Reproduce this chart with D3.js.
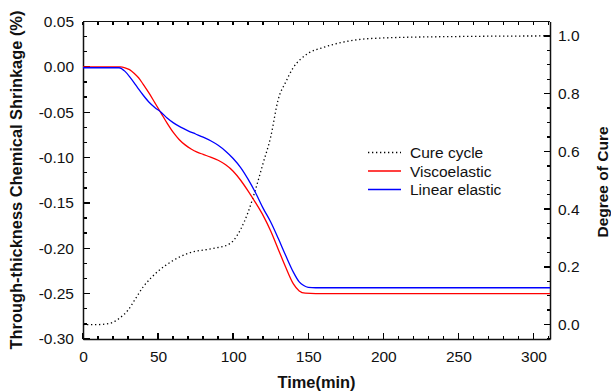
<!DOCTYPE html>
<html lang="en">
<head>
  <meta charset="UTF-8" />
  <title>Through-thickness Chemical Shrinkage</title>
  <script src="https://d3js.org/d3.v7.min.js"></script>
  <style>
    body {
      margin: 0;
      background: #fff;
    }

    svg {
      display: block;
      font-family: "Liberation Sans", Arial, sans-serif;
    }

    .axis path, .axis line {
      stroke: #111;
      stroke-width: 1.2;
    }

    .axis text {
      font-size: 15.5px;
      fill: #111;
    }

    .title {
      font-size: 16.4px;
      font-weight: bold;
      fill: #111;
    }

    .legend text {
      font-size: 15.5px;
      fill: #111;
    }
  </style>
</head>

<body>
  <svg width="611" height="392"></svg>

  <script>
    const viscoTime = [0, 25, 28, 31, 34, 37, 40, 44, 48, 52, 56, 60, 64, 68, 72, 76, 80, 85, 90, 95, 100, 105, 110, 115, 120, 125, 130, 135, 140, 144, 148, 155, 311];
    const viscoVals = [0, 0, -0.001, -0.003, -0.007, -0.012, -0.019, -0.029, -0.040, -0.051, -0.062, -0.072, -0.080, -0.086, -0.0905, -0.094, -0.0965, -0.0995, -0.103, -0.108, -0.115, -0.125, -0.137, -0.150, -0.164, -0.181, -0.201, -0.221, -0.239, -0.247, -0.2495, -0.250, -0.250];

    const linearTime = [0, 24, 28, 32, 36, 40, 44, 48, 52, 56, 60, 65, 70, 75, 80, 85, 90, 95, 100, 105, 110, 115, 120, 125, 130, 135, 140, 144, 147, 150, 155, 311];
    const linearVals = [-0.001, -0.001, -0.005, -0.013, -0.022, -0.031, -0.039, -0.045, -0.050, -0.0565, -0.0615, -0.0665, -0.0705, -0.074, -0.0775, -0.0815, -0.0865, -0.093, -0.101, -0.111, -0.124, -0.139, -0.156, -0.171, -0.189, -0.208, -0.226, -0.237, -0.241, -0.243, -0.2435, -0.2435];

    const cureTime = [0, 10, 15, 20, 25, 30, 35, 40, 45, 50, 55, 60, 65, 70, 75, 80, 85, 90, 95, 100, 105, 110, 115, 120, 125, 130, 135, 140, 145, 150, 160, 170, 180, 200, 250, 311];
    const cureVals = [0, 0, 0.002, 0.008, 0.025, 0.05, 0.09, 0.13, 0.16, 0.185, 0.205, 0.222, 0.236, 0.247, 0.254, 0.258, 0.262, 0.267, 0.273, 0.29, 0.33, 0.39, 0.47, 0.56, 0.65, 0.78, 0.84, 0.89, 0.92, 0.94, 0.96, 0.975, 0.985, 0.993, 0.998, 1.0];

    const xTicks = [0, 50, 100, 150, 200, 250, 300];
    const leftTicks = [0.05, 0.00, -0.05, -0.10, -0.15, -0.20, -0.25, -0.30];
    const rightTicks = [0.0, 0.2, 0.4, 0.6, 0.8, 1.0];

    const seriesNames = ["Cure cycle", "Viscoelastic", "Linear elastic"];
    const seriesColors = ["#000", "#ff0000", "#0000ff"];

    const svg = d3.select("svg");
    const margin = { left: 83, right: 61, top: 21.5, bottom: 53 };
    const width = 611, height = 392;
    const x0 = margin.left, x1 = width - margin.right;
    const y0 = height - margin.bottom, y1 = margin.top;

    const x = d3.scaleLinear().domain([0, 311]).range([x0, x1]);
    const yL = d3.scaleLinear().domain([-0.30, 0.05]).range([y0, y1]);
    const yR = d3.scaleLinear().domain([-0.05, 1.05]).range([y0, y1]);

    const fmt = d => d.toFixed(2).replace("-0.00", "0.00");

    const minorX = d3.range(0, 311, 10);
    const minorL = d3.range(0, 22).map(i => -0.30 + i * 0.05 / 3);
    const minorR = d3.range(0, 23).map(i => -0.05 + i * 0.05);

    // inward ticks drawn by hand
    const ticks = svg.append("g")
      .attr("stroke", "#000")
      .attr("stroke-width", 1.4)
      .attr("shape-rendering", "crispEdges");
    const addTicks = (vals, f) => ticks.append("g").selectAll("line").data(vals).join("line").each(f);
    addTicks(minorX, function (d) {
      d3.select(this).attr("x1", x(d)).attr("x2", x(d)).attr("y1", y0).attr("y2", y0 - 3.5);
    });
    addTicks(minorX, function (d) {
      d3.select(this).attr("x1", x(d)).attr("x2", x(d)).attr("y1", y1).attr("y2", y1 + 3.5);
    });
    addTicks(xTicks, function (d) {
      d3.select(this).attr("x1", x(d)).attr("x2", x(d)).attr("y1", y0).attr("y2", y0 - 6.5);
    });
    addTicks(minorL, function (d) {
      d3.select(this).attr("x1", x0).attr("x2", x0 + 3.5).attr("y1", yL(d)).attr("y2", yL(d));
    });
    addTicks(leftTicks, function (d) {
      d3.select(this).attr("x1", x0).attr("x2", x0 + 6.5).attr("y1", yL(d)).attr("y2", yL(d));
    });
    addTicks(minorR, function (d) {
      d3.select(this).attr("x1", x1).attr("x2", x1 - 3.5).attr("y1", yR(d)).attr("y2", yR(d));
    });
    addTicks(rightTicks, function (d) {
      d3.select(this).attr("x1", x1).attr("x2", x1 - 6.5).attr("y1", yR(d)).attr("y2", yR(d));
    });

    // axes (labels and lines)
    svg.append("g").attr("class", "axis")
      .attr("transform", `translate(0,${y0})`)
      .call(d3.axisBottom(x).tickValues(xTicks).tickSize(0).tickPadding(8))
      .call(g => g.selectAll("text").attr("dy", "0.95em"));
    svg.append("g").attr("class", "axis")
      .attr("transform", `translate(${x0},0)`)
      .call(d3.axisLeft(yL).tickValues(leftTicks).tickFormat(fmt).tickSize(0).tickPadding(9));
    svg.append("g").attr("class", "axis")
      .attr("transform", `translate(${x1},0)`)
      .call(d3.axisRight(yR).tickValues(rightTicks).tickFormat(d3.format(".1f")).tickSize(0).tickPadding(8));
    svg.append("line")
      .attr("x1", x0).attr("x2", x1).attr("y1", y1).attr("y2", y1)
      .attr("stroke", "#111")
      .attr("stroke-width", 1.2);

    svg.selectAll(".axis .domain").style("stroke-width", 1.5);

    // curves
    const lineL = d3.line().x(d => x(d[0])).y(d => yL(d[1])).curve(d3.curveMonotoneX);
    const lineR = d3.line().x(d => x(d[0])).y(d => yR(d[1])).curve(d3.curveMonotoneX);

    svg.append("path")
      .datum(d3.zip(cureTime, cureVals))
      .attr("d", lineR)
      .attr("fill", "none")
      .attr("stroke", seriesColors[0])
      .attr("stroke-width", 1.3)
      .attr("stroke-dasharray", "1.3,2.7");

    svg.append("path")
      .datum(d3.zip(viscoTime, viscoVals))
      .attr("d", lineL)
      .attr("fill", "none")
      .attr("stroke", seriesColors[1])
      .attr("stroke-width", 1.3);

    svg.append("path")
      .datum(d3.zip(linearTime, linearVals))
      .attr("d", lineL)
      .attr("fill", "none")
      .attr("stroke", seriesColors[2])
      .attr("stroke-width", 1.3);

    // legend
    const legend = svg.append("g").attr("class", "legend").attr("transform", "translate(368,152.5)");
    seriesNames.forEach((name, i) => {
      const row = legend.append("g").attr("transform", `translate(0,${i * 18.5})`);
      row.append("line")
        .attr("x1", 0).attr("x2", 33)
        .attr("stroke", seriesColors[i])
        .attr("stroke-width", 1.3)
        .attr("stroke-dasharray", i === 0 ? "1.3,2.7" : null);
      row.append("text").attr("x", 42).attr("y", 5.5).text(name);
    });

    // axis titles
    svg.append("text").attr("class", "title")
      .attr("x", (x0 + x1) / 2).attr("y", 388)
      .attr("text-anchor", "middle")
      .text("Time(min)");
    svg.append("text").attr("class", "title")
      .attr("transform", "translate(22,180) rotate(-90)")
      .attr("text-anchor", "middle")
      .text("Through-thickness Chemical Shrinkage (%)");
    svg.append("text").attr("class", "title")
      .attr("transform", "translate(608,182) rotate(-90)")
      .attr("text-anchor", "middle")
      .style("font-size", "15.5px")
      .text("Degree of Cure");
  </script>
</body>
</html>
